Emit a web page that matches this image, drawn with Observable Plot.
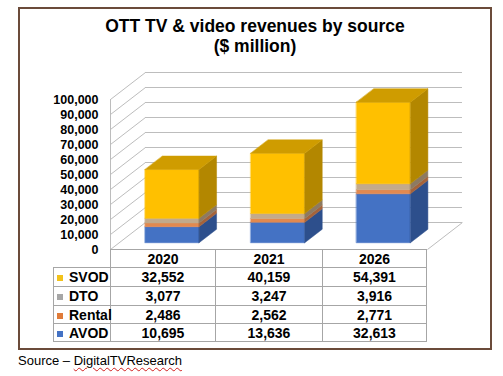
<!DOCTYPE html>
<html><head><meta charset="utf-8">
<script src="https://cdn.jsdelivr.net/npm/d3@7"></script>
<script src="https://cdn.jsdelivr.net/npm/@observablehq/plot@0.6"></script>
<style>
body{margin:0;background:#fff;font-family:"Liberation Sans",Arial,sans-serif;color:#000;}
#page{position:relative;width:503px;height:376px;overflow:hidden;background:#fff;}
#frame{position:absolute;left:18px;top:7px;width:474px;height:343px;box-sizing:border-box;border:2px solid #6b4b3a;}
#title{position:absolute;left:18px;width:474px;top:17px;text-align:center;font-weight:bold;font-size:17.5px;line-height:19.5px;}
#chart{position:absolute;left:0;top:60px;}
#tbl{position:absolute;left:53px;top:249px;width:373px;border-collapse:collapse;table-layout:fixed;font-weight:bold;font-size:14px;}
#tbl td{border:1px solid #a6a6a6;padding:0;text-align:center;line-height:16px;}
#tbl td.lab{text-align:left;padding-left:3px;white-space:nowrap;}
#tbl td.blank{border-top:none;border-left:none;}
.sw{display:inline-block;width:6px;height:6px;margin-right:6px;vertical-align:1px;}
#source{position:absolute;left:18px;top:353px;font-size:13px;line-height:15px;}
#source .sq{text-decoration:underline wavy #d02020;text-decoration-thickness:1px;text-underline-offset:2px;}
</style></head>
<body>
<div id="page">
  <div id="frame"></div>
  <div id="title">OTT TV &amp; video revenues by source<br>($ million)</div>
  <div id="chart"></div>
  <table id="tbl"></table>
  <div id="source">Source – <span class="sq">DigitalTVResearch</span></div>
</div>
<script>
// ---- data ----
const years = ["2020", "2021", "2026"];
const seriesNames = ["AVOD", "Rental", "DTO", "SVOD"]; // stacking order, bottom to top
const avod = [10695, 13636, 32613];
const rental = [2486, 2562, 2771];
const dto = [3077, 3247, 3916];
const svod = [32552, 40159, 54391];
const yTicks = [0, 10000, 20000, 30000, 40000, 50000, 60000, 70000, 80000, 90000, 100000];
const tableOrder = ["SVOD", "DTO", "Rental", "AVOD"];

const values = {AVOD: avod, Rental: rental, DTO: dto, SVOD: svod};
const colors = {
  AVOD:   {front: "#4472C4", side: "#2D4F8C", top: "#3A63AE", legend: "#4472C4"},
  Rental: {front: "#E2894F", side: "#A5633A", top: "#C87845", legend: "#E07B39"},
  DTO:    {front: "#C3AA8B", side: "#8D7A62", top: "#AE9879", legend: "#A6A6A6"},
  SVOD:   {front: "#FFC000", side: "#B38700", top: "#CF9C00", legend: "#F2C21B"}
};

// ---- 3D geometry (depth expressed in scale units) ----
const DX = 0.331, DY = 18000, HW = 0.2555, F0 = 0.25, F1 = 0.75;
const polys = [];
let pid = 0;
function addPoly(pts, fill) {
  const id = pid++;
  pts.forEach(p => polys.push({id, x: p[0], y: p[1], fill}));
}
years.forEach((yr, i) => {
  let base = 0;
  seriesNames.forEach((s, k) => {
    const v0 = base, v1 = base + values[s][i];
    base = v1;
    const xl = i - HW, xr = i + HW;
    const P = (x, y, f) => [x + f * DX, y + f * DY];
    addPoly([P(xl, v0, F0), P(xr, v0, F0), P(xr, v1, F0), P(xl, v1, F0)], colors[s].front);
    addPoly([P(xr, v0, F0), P(xr, v0, F1), P(xr, v1, F1), P(xr, v1, F0)], colors[s].side);
    if (k === seriesNames.length - 1) {
      addPoly([P(xl, v1, F0), P(xr, v1, F0), P(xr, v1, F1), P(xl, v1, F1)], colors[s].top);
    }
  });
});

const grid = "#bdbdbd";
const chart = Plot.plot({
  width: 503,
  height: 192,
  marginLeft: 110,
  marginTop: 0, marginBottom: 0, marginRight: 0,
  style: {fontFamily: "'Liberation Sans', Arial, sans-serif", fontSize: "12.5px", fontWeight: "bold", color: "#000", background: "transparent", overflow: "visible"},
  x: {type: "linear", domain: [-0.5, 2.5], range: [110, 427], axis: null},
  y: {type: "linear", domain: [0, 100000], range: [189, 39]},
  marks: [
    Plot.ruleY(yTicks, {y: d => d + DY, x1: () => -0.5 + DX, x2: () => 2.5 + DX, stroke: grid, strokeWidth: 1}),
    Plot.link(yTicks, {x1: () => -0.5, y1: d => d, x2: () => -0.5 + DX, y2: d => d + DY, stroke: grid, strokeWidth: 1}),
    Plot.ruleX([-0.5], {y1: 0, y2: 100000, stroke: grid, strokeWidth: 1}),
    Plot.ruleY([0], {x1: () => -0.5, x2: () => 2.5, stroke: grid, strokeWidth: 1}),
    Plot.link([0], {x1: () => 2.5, y1: () => 0, x2: () => 2.5 + DX, y2: () => DY, stroke: grid, strokeWidth: 1}),
    Plot.line(polys, {x: "x", y: "y", z: "id", fill: "fill", stroke: "fill", strokeWidth: 0.5, curve: "linear-closed"}),
    Plot.axisY({ticks: yTicks, tickFormat: d3.format(","), tickSize: 0, tickPadding: 12, label: null})
  ]
});
document.getElementById("chart").appendChild(chart);

// ---- data table ----
const fmt = d3.format(",");
const tbl = document.getElementById("tbl");
const colgroup = document.createElement("colgroup");
[57, 105, 107, 104].forEach(w => { const c = document.createElement("col"); c.style.width = w + "px"; colgroup.appendChild(c); });
tbl.appendChild(colgroup);
const hdr = document.createElement("tr");
hdr.style.height = "18px";
const blank = document.createElement("td"); blank.className = "blank"; hdr.appendChild(blank);
years.forEach(y => { const td = document.createElement("td"); td.textContent = y; hdr.appendChild(td); });
tbl.appendChild(hdr);
const rowH = [19, 19, 18, 18];
tableOrder.forEach((s, r) => {
  const tr = document.createElement("tr");
  tr.style.height = rowH[r] + "px";
  const lab = document.createElement("td"); lab.className = "lab";
  const sw = document.createElement("span"); sw.className = "sw"; sw.style.background = colors[s].legend;
  lab.appendChild(sw); lab.appendChild(document.createTextNode(s));
  tr.appendChild(lab);
  values[s].forEach(v => { const td = document.createElement("td"); td.textContent = fmt(v); tr.appendChild(td); });
  tbl.appendChild(tr);
});
</script>
</body></html>
